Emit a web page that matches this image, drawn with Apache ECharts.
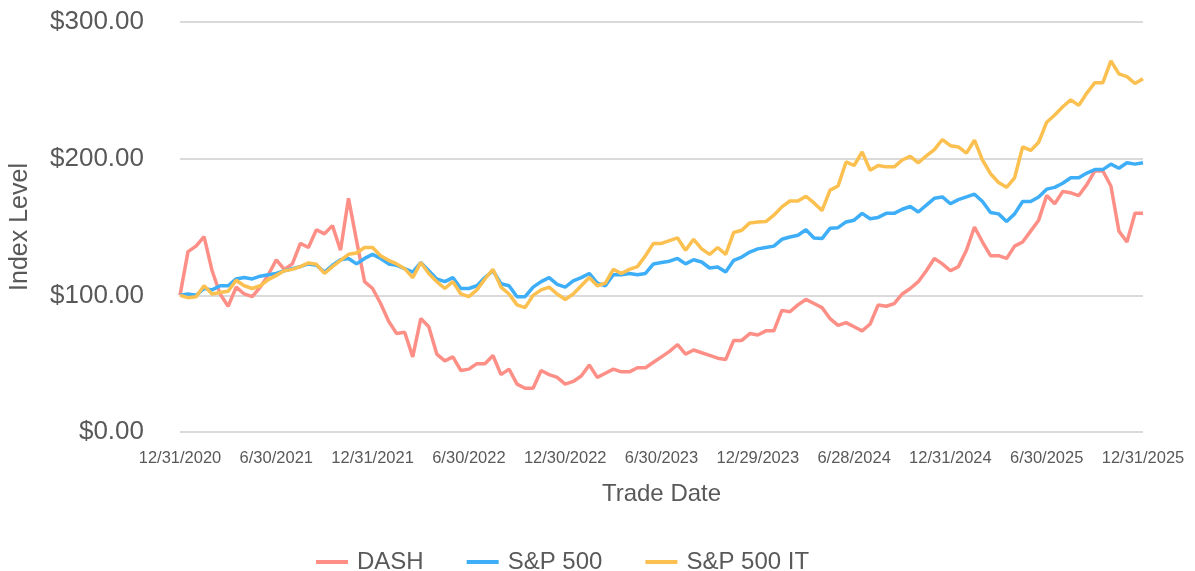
<!DOCTYPE html>
<html>
<head>
<meta charset="utf-8">
<script src="https://cdn.jsdelivr.net/npm/echarts@6/dist/echarts.min.js"></script>
<style>
  html, body { margin: 0; padding: 0; background: #fff; }
  #chart { width: 1195px; height: 571px; }
</style>
</head>
<body>
<div id="chart"></div>
<script>
// tick labels on the date axis (every 12th point)
const tickLabels = ['12/31/2020', '6/30/2021', '12/31/2021', '6/30/2022', '12/30/2022', '6/30/2023',
  '12/29/2023', '6/28/2024', '12/31/2024', '6/30/2025', '12/31/2025'];

const dash = [100, 132, 136, 143, 118, 101, 92, 106, 101, 99, 106, 115, 126, 119, 123, 138, 135, 148, 145, 151,
  133, 171, 140, 110, 105, 94, 81, 72, 73, 55, 83, 77, 57, 52, 55, 45, 46, 50, 50, 56,
  42, 46, 35, 32, 32, 45, 42, 40, 35, 37, 41, 49, 40, 43, 46, 44, 44, 47, 47, 51,
  55, 59, 64, 57, 60, 58, 56, 54, 53, 67, 67, 72, 71, 74, 74, 89, 88, 93, 97, 94,
  91, 83, 78, 80, 77, 74, 79, 93, 92, 94, 101, 105, 110, 118, 127, 123, 118, 121, 133, 150,
  139, 129, 129, 127, 136, 139, 147, 155, 173, 167, 176, 175, 173, 181, 191, 191, 180, 147, 139, 160, 160];

const sp500 = [100, 101, 100, 105, 104, 107, 107, 112, 113, 112, 114, 115, 116, 118, 119.5, 121, 123, 122, 117, 122,
  126, 127, 123, 127, 130, 127, 123, 122, 119.5, 117, 124, 118, 112, 110, 113, 105, 105, 107, 113, 118,
  108.5, 107, 99, 99, 106, 110, 113, 108, 106, 110.5, 113, 116, 109, 107, 115, 115, 116, 115, 116, 123,
  124, 125, 127, 123, 126, 124.4, 120, 120.7, 117, 125.6, 128, 131.7, 134, 135, 136, 141, 142.7, 144, 148, 142,
  141.5, 149, 149.5, 153.7, 155, 160, 156, 157, 160, 160, 163, 165, 161, 166, 171, 172, 167, 170, 172, 174,
  168.6, 160.6, 159.6, 154, 159.6, 168.6, 168.6, 172, 177.7, 179, 182, 186, 186, 189.5, 192, 192, 196, 193, 197, 196, 197];

const sp500IT = [100, 98.3, 99, 107, 101, 102, 103, 111, 107, 105, 107, 111.5, 114.6, 118, 119, 121, 123.7, 122.7, 116, 121,
  125.6, 130, 131, 135, 135, 129, 125.6, 123, 119.5, 113, 124, 116, 110, 105, 110, 101, 99, 104, 112, 119,
  106, 101, 93, 91, 100, 104, 106, 101, 97, 101, 107, 113, 107, 109, 119, 116, 119, 121, 129, 138,
  138, 140, 142, 133, 141, 134, 130, 135, 130, 146, 147.6, 153, 153.7, 154, 158.6, 164.7, 169, 169, 172.5, 167.6,
  162, 177, 180, 197.6, 195, 205, 191.5, 195, 194, 194, 199, 201.7, 197, 202, 206.6, 214, 209.5, 208.6, 204, 213.5,
  199, 189, 182.6, 179, 186, 208.6, 206, 212, 226.7, 232, 238, 243, 239, 248, 255.6, 255.6, 271.5, 262, 260, 255, 258.5];

// one category per point, tick dates every 12 points
const categories = dash.map((_, i) => (i % 12 === 0 ? tickLabels[i / 12] : 'p' + i));

const chart = echarts.init(document.getElementById('chart'));
const textColor = '#595959';
const font = 'Liberation Sans, Arial, sans-serif';

chart.setOption({
  animation: false,
  color: ['#FD8F87', '#3DAEF7', '#FBC04F'],
  grid: { left: 179, right: 52, top: 22, bottom: 139 },
  legend: {
    left: 311,
    top: 545,
    icon: 'rect',
    itemWidth: 32,
    itemHeight: 4,
    itemGap: 43,
    textStyle: { fontSize: 24, color: textColor, fontFamily: font, padding: [0, 0, 0, 4] },
    data: ['DASH', 'S&P 500', 'S&P 500 IT'],
  },
  xAxis: {
    type: 'category',
    data: categories,
    boundaryGap: false,
    name: 'Trade Date',
    nameLocation: 'middle',
    nameGap: 50,
    nameTextStyle: { fontSize: 24, color: textColor, fontFamily: font },
    axisLine: { show: false },
    axisTick: { show: false },
    axisLabel: {
      interval: 11,
      showMinLabel: true,
      showMaxLabel: true,
      hideOverlap: false,
      margin: 18,
      color: textColor,
      fontSize: 16.5,
      fontFamily: font,
      formatter: (v, i) => tickLabels[i / 12],
    },
  },
  yAxis: {
    type: 'value',
    min: 0,
    max: 300,
    interval: 100,
    name: 'Index Level',
    nameLocation: 'middle',
    nameGap: 147,
    nameTextStyle: { fontSize: 25, color: textColor, fontFamily: font },
    axisLabel: {
      margin: 36,
      color: textColor,
      fontSize: 26,
      fontFamily: font,
      formatter: (v) => '$' + v.toFixed(2),
    },
    splitLine: { lineStyle: { color: '#dadada', width: 2 } },
  },
  series: [
    { name: 'DASH', type: 'line', data: dash, showSymbol: false, lineStyle: { width: 3.5 } },
    { name: 'S&P 500', type: 'line', data: sp500, showSymbol: false, lineStyle: { width: 3.5 } },
    { name: 'S&P 500 IT', type: 'line', data: sp500IT, showSymbol: false, lineStyle: { width: 3.5 } },
  ],
});
</script>
</body>
</html>
